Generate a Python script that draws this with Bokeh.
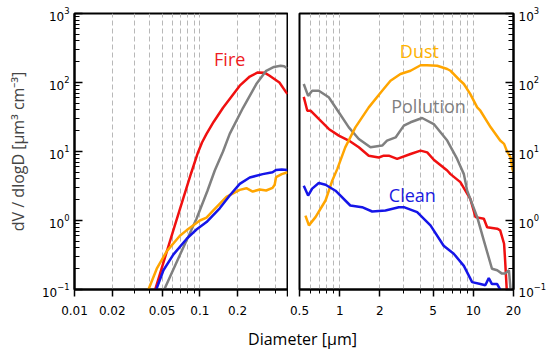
from bokeh.plotting import figure
from bokeh.models import FixedTicker, CustomJSTickFormatter, Label, Div
from bokeh.layouts import row, column
from bokeh.embed import file_html
from bokeh.resources import INLINE

# ---------------- data ----------------
# left panel (0.01 - 0.5 um)
fire_l_d = [0.040, 0.044, 0.0614, 0.085, 0.0964, 0.104, 0.113, 0.129, 0.153, 0.208, 0.25, 0.29, 0.33, 0.36, 0.431, 0.488, 0.5]
fire_l_v = [0.056, 0.1, 0.72, 4.8, 9.6, 13.5, 18, 27, 43, 90, 122, 140, 138, 125, 100, 72, 68]

poll_l_d = [0.048, 0.052, 0.07, 0.094, 0.115, 0.1315, 0.153, 0.173, 0.221, 0.282, 0.338, 0.39, 0.44, 0.47, 0.5]
poll_l_v = [0.07, 0.1, 0.33, 1.06, 2.7, 5.3, 10, 18, 43, 95, 148, 168, 175, 172, 160]

dust_l_d = [0.036, 0.0389, 0.0453, 0.0545, 0.0693, 0.0783, 0.094, 0.1, 0.113, 0.128, 0.163, 0.208, 0.235, 0.264,
            0.3, 0.338, 0.38, 0.395, 0.405, 0.45, 0.5]
dust_l_v = [0.065, 0.1, 0.2, 0.36, 0.6, 0.72, 0.92, 1.0, 1.1, 1.4, 2.2, 2.78, 2.94, 2.63,
            2.81, 2.72, 2.97, 3.3, 4.24, 4.7, 5.0]

clean_l_d = [0.041, 0.0449, 0.0512, 0.0614, 0.0783, 0.094, 0.113, 0.144, 0.173, 0.208, 0.25, 0.317, 0.38, 0.405, 0.45, 0.5]
clean_l_v = [0.065, 0.1, 0.19, 0.32, 0.54, 0.74, 0.95, 1.5, 2.3, 3.4, 4.2, 4.7, 5.0, 5.4, 5.5, 5.4]

# right panel (0.5 - 20 um)
fire_r_d = [0.538, 0.572, 0.605, 0.697, 0.828, 0.984, 1.17, 1.39, 1.65, 1.96, 2.14, 2.33, 2.69, 3.39, 4.03, 4.52,
            5.06, 6.38, 6.75, 8.0, 9.5, 10.4, 12.0, 12.7, 15.1, 15.9, 17.0, 17.3, 17.8, 18.0]
fire_r_v = [62, 39, 39, 29.6, 21.2, 17, 14.4, 11.5, 8.7, 8.2, 8.7, 8.7, 7.8, 9.2, 10.3, 9.7,
            7.6, 5.3, 4.7, 3.6, 2.06, 1.12, 1.06, 0.8, 0.76, 0.72, 0.46, 0.27, 0.1, 0.07]

poll_r_d = [0.538, 0.58, 0.622, 0.697, 0.828, 0.984, 1.17, 1.39, 1.70, 2.08, 2.26, 2.62, 3.02, 3.39, 4.14, 5.06,
            6.38, 7.57, 8.5, 9.0, 10.7, 12.0, 13.8, 15.1, 16.4, 17.3, 18.5, 19.0, 19.5]
poll_r_v = [95, 64, 76, 76, 61, 37, 22.4, 15.2, 11.5, 12.2, 14.4, 16, 23.7, 26.5, 30.6, 25,
            14.4, 7.8, 4.7, 2.7, 1.12, 0.51, 0.2, 0.19, 0.17, 0.17, 0.19, 0.1, 0.07]

dust_r_d = [0.554, 0.588, 0.659, 0.783, 0.88, 0.96, 1.10, 1.31, 1.65, 2.08, 2.4, 2.85, 3.39, 4.03, 4.5, 5.37,
            6.38, 6.75, 8.0, 8.5, 9.5, 10.7, 11.3, 13.5, 15.9, 17.0, 17.8, 19.0, 19.6, 20.0]
dust_r_v = [1.18, 0.85, 1.12, 1.95, 3.8, 5.6, 11.5, 22.4, 43.6, 76, 106, 133, 148, 178, 178, 175,
            157, 148, 106, 95, 68, 43.6, 39, 22.4, 14.4, 12.9, 10.3, 8.2, 5.6, 5.0]

clean_r_d = [0.538, 0.58, 0.622, 0.697, 0.783, 0.93, 1.2, 1.47, 1.75, 2.2, 2.77, 3.02, 3.8, 4.78, 6.0, 7.14,
             8.5, 9.8, 11.3, 12.3, 13.06, 13.8, 15.1, 15.9, 16.5]
clean_r_v = [3.2, 2.3, 2.9, 3.5, 3.3, 2.7, 1.65, 1.56, 1.35, 1.4, 1.56, 1.56, 1.32, 0.85, 0.43, 0.33,
             0.22, 0.128, 0.12, 0.115, 0.146, 0.12, 0.12, 0.1, 0.08]

left_xticks = [0.01, 0.02, 0.05, 0.1, 0.2, 0.5]
left_xminor = [0.03, 0.04, 0.06, 0.07, 0.08, 0.09, 0.3, 0.4]
right_xticks = [0.5, 1, 2, 5, 10, 20]
right_xminor = [0.6, 0.7, 0.8, 0.9, 3, 4, 6, 7, 8, 9]
left_grid = [0.02, 0.03, 0.04, 0.05, 0.06, 0.07, 0.08, 0.09, 0.1, 0.2, 0.3, 0.4]
right_grid = [0.6, 0.7, 0.8, 0.9, 1, 2, 3, 4, 5, 6, 7, 8, 9, 10]
yticks = [0.1, 1, 10, 100, 1000]
yminor = [m * d for d in [0.1, 1, 10, 100] for m in range(2, 10)]

RED = "#f01010"
ORANGE = "#ffa500"
GRAY = "#808080"
BLUE = "#1515e8"

TICK_FONT = "DejaVu Sans"
LBL_FONT = "Open Sans"


def style(p, xticks, xminor, grid, hide_label):
    p.outline_line_color = "black"
    p.outline_line_width = 2
    p.background_fill_color = "white"
    p.border_fill_color = "white"
    p.ygrid.visible = False
    p.xgrid.ticker = FixedTicker(ticks=grid)
    p.xgrid.grid_line_color = "#b8b8b8"
    p.xgrid.grid_line_dash = "5 3"
    p.xgrid.grid_line_width = 1
    xa = p.xaxis[0]
    xa.ticker = FixedTicker(ticks=xticks, minor_ticks=xminor)
    xa.formatter = CustomJSTickFormatter(args=dict(hide=hide_label),
                                         code="return (tick == hide) ? '' : tick.toString()")
    xa.major_tick_in = 0
    xa.major_tick_out = 7
    xa.minor_tick_in = 0
    xa.minor_tick_out = 4
    xa.axis_line_width = 2
    xa.major_tick_line_width = 1.5
    xa.minor_tick_line_width = 1
    xa.major_label_text_font = TICK_FONT
    xa.major_label_text_font_size = "12px"
    xa.major_label_standoff = 9
    ya = p.yaxis[0]
    ya.ticker = FixedTicker(ticks=yticks, minor_ticks=yminor)
    ya.major_tick_in = 8
    ya.major_tick_out = 0
    ya.minor_tick_in = 5
    ya.minor_tick_out = 0
    ya.axis_line_width = 2
    ya.major_tick_line_width = 1.5
    ya.major_label_text_font = TICK_FONT
    ya.major_label_text_font_size = "12px"
    ya.major_label_standoff = 5
    for a in (xa, ya):
        a.axis_line_color = "black"
        a.major_tick_line_color = "black"
        a.minor_tick_line_color = "black"
        a.major_label_text_color = "black"


p1 = figure(width=288, height=320, x_axis_type="log", y_axis_type="log",
            x_range=(0.01, 0.5), y_range=(0.1, 1000),
            output_backend="svg", toolbar_location=None,
            min_border_left=74, min_border_right=1, min_border_top=13, min_border_bottom=31)
style(p1, left_xticks, left_xminor, left_grid, 0.5)
p1.yaxis.axis_label = "dV / dlogD [µm³ cm⁻³]"
p1.yaxis.axis_label_text_font = LBL_FONT
p1.yaxis.axis_label_text_font_size = "16px"
p1.yaxis.axis_label_text_font_style = "normal"
p1.yaxis.axis_label_standoff = 10

p2 = figure(width=263, height=320, x_axis_type="log", y_axis_type="log",
            x_range=(0.5, 20), y_range=(0.1, 1000), y_axis_location="right",
            output_backend="svg", toolbar_location=None,
            min_border_left=11, min_border_right=38, min_border_top=13, min_border_bottom=31)
style(p2, right_xticks, right_xminor, right_grid, -1)

LW = 2.5
p1.line(fire_l_d, fire_l_v, color=RED, line_width=LW)
p1.line(poll_l_d, poll_l_v, color=GRAY, line_width=LW)
p1.line(dust_l_d, dust_l_v, color=ORANGE, line_width=LW)
p1.line(clean_l_d, clean_l_v, color=BLUE, line_width=LW)

p2.line(fire_r_d, fire_r_v, color=RED, line_width=LW)
p2.line(poll_r_d, poll_r_v, color=GRAY, line_width=LW)
p2.line(dust_r_d, dust_r_v, color=ORANGE, line_width=LW)
p2.line(clean_r_d, clean_r_v, color=BLUE, line_width=LW)

p1.add_layout(Label(x=0.173, y=221, text="Fire", text_color="#ee1c24", text_font=LBL_FONT,
                    text_font_size="18px", text_align="center", text_baseline="alphabetic"))
p2.add_layout(Label(x=3.95, y=290, text="Dust", text_color="#ffb300", text_font=LBL_FONT,
                    text_font_size="18px", text_align="center", text_baseline="alphabetic"))
p2.add_layout(Label(x=4.62, y=46, text="Pollution", text_color="#808080", text_font=LBL_FONT,
                    text_font_size="18px", text_align="center", text_baseline="alphabetic"))
p2.add_layout(Label(x=3.5, y=2.38, text="Clean", text_color="#1a1ae0", text_font=LBL_FONT,
                    text_font_size="18px", text_align="center", text_baseline="alphabetic"))

xlabel = Div(text='<div style="width:543px;text-align:center;font-family:\'Open Sans\';font-size:16px;'
                  'line-height:20px;padding-top:4px;color:black;">'
                  '<span style="position:relative;left:26px;">Diameter [µm]</span></div>',
             width=543, height=29, styles={"overflow": "visible"})

layout = column(row(p1, p2), xlabel)

open("out.html", "w").write(file_html(layout, INLINE))
